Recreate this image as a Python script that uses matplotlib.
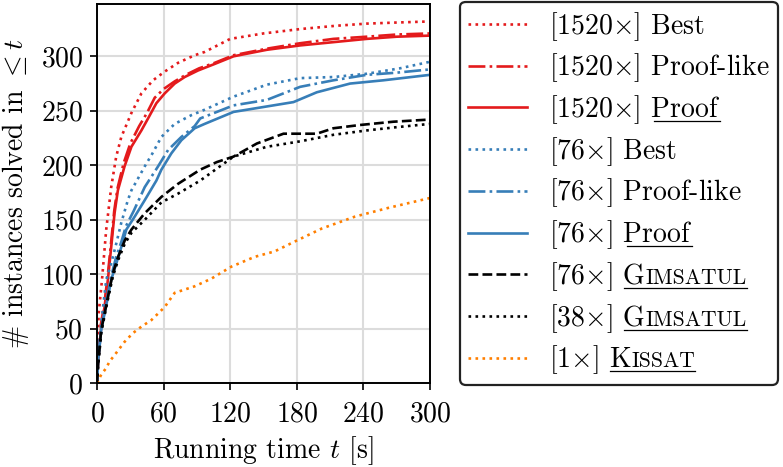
import matplotlib
matplotlib.use("Agg")
import matplotlib.pyplot as plt

plt.rcParams["font.family"] = "serif"
plt.rcParams["font.serif"] = ["cmr10"]
plt.rcParams["mathtext.fontset"] = "cm"
plt.rcParams["axes.formatter.use_mathtext"] = True

FS = 20

# cumulative solved instances vs running time
t_r1520_best = [0, 0.5, 1.5, 4.5, 8.3, 12.8, 17.3, 21.9, 31, 40, 50.5, 61, 73, 88, 97, 120, 150, 183, 215, 243, 270, 300]
n_r1520_best = [0, 30, 64, 95, 141, 180, 208, 226, 248, 266, 278, 286, 294, 301, 304, 316, 321, 325, 328, 330, 331, 332]

t_r1520_plike = [0, 1, 3.5, 6.5, 9.5, 12.5, 15.5, 18.5, 24, 30, 38, 45, 52, 60, 70, 80, 92, 106, 123, 153, 183, 213, 243, 270, 300]
n_r1520_plike = [0, 22, 54, 72, 97, 127, 158, 179, 202, 220, 236, 248, 262, 270, 277, 283, 289, 294, 301, 307, 312, 316, 318, 320, 321]

t_r1520_proof = [0, 1, 3.8, 6.8, 9.8, 12.8, 15.8, 18.8, 24.8, 31, 40, 46, 53.5, 61, 70, 79, 91, 106, 123, 153, 183, 213, 243, 270, 300]
n_r1520_proof = [0, 20, 52, 70, 95, 125, 156, 177, 199, 217, 232, 243, 257, 266, 275, 281, 287, 293, 300, 306, 310, 313, 316, 318, 319]

t_r76_best = [0, 1, 3.8, 8.3, 12.8, 17.3, 21.8, 27.8, 31, 43, 50, 58, 70, 85, 97, 123, 153, 183, 213, 243, 273, 300]
n_r76_best = [0, 25, 55, 95, 110, 128, 147, 168, 177, 199, 211, 226, 238, 246, 251, 263, 274, 280, 281, 284, 289, 295]

t_r76_plike = [0, 1, 3.8, 6.8, 9.8, 12.8, 17, 22, 26, 33, 43, 55, 64, 76, 88, 93, 123, 153, 183, 213, 243, 270, 300]
n_r76_plike = [0, 22, 50, 66, 82, 98, 115, 130, 144, 158, 180, 199, 214, 226, 236, 243, 255, 260, 272, 278, 283, 285, 288]

t_r76_proof = [0, 1, 3.8, 6.8, 9.8, 12.8, 17.4, 21.9, 26.4, 34, 43, 53.5, 58, 67, 76, 88, 97, 123, 153, 177, 198, 228, 258, 300]
n_r76_proof = [0, 20, 49, 64, 79, 95, 110, 125, 141, 153, 168, 186, 196, 211, 223, 234, 238, 249, 254, 258, 267, 275, 278, 283]

t_g76 = [0, 1, 3.8, 6.8, 9.8, 14.3, 19, 25, 31, 43, 58, 73, 93, 108, 123, 144, 168, 198, 213, 237, 267, 300]
n_g76 = [0, 18, 49, 64, 79, 101, 116, 131, 141, 156, 171, 183, 196, 203, 208, 220, 229, 229, 234, 237, 240, 242]

t_g38 = [0, 1, 3.8, 6.8, 9.8, 14.3, 19, 25, 31, 43, 58, 73, 93, 123, 153, 183, 213, 243, 270, 300]
n_g38 = [0, 16, 46, 62, 77, 98, 113, 128, 138, 150, 166, 174, 186, 208, 217, 222, 228, 232, 235, 238]

t_kissat = [0, 3.8, 8.3, 11.3, 17.4, 24.8, 32.3, 40, 49, 61, 70, 88, 103, 121, 142, 160, 178, 202.5, 232.6, 262.7, 300]
n_kissat = [0, 8, 14, 20, 28, 38, 46, 52, 58, 70, 83, 89, 96, 107, 116, 121, 130, 142, 153, 161, 170]

RED, BLUE, ORANGE = "#e41a1c", "#377eb8", "#ff7f00"

# (t, n, colour, style, label prefix, underlined word, small-caps tail)
SERIES = [
    (t_r1520_best, n_r1520_best, RED, ":", "[1520$\\times$] Best", None, None),
    (t_r1520_plike, n_r1520_plike, RED, "-.", "[1520$\\times$] Proof-like", None, None),
    (t_r1520_proof, n_r1520_proof, RED, "-", "[1520$\\times$] Proof", "Proof", None),
    (t_r76_best, n_r76_best, BLUE, ":", "[76$\\times$] Best", None, None),
    (t_r76_plike, n_r76_plike, BLUE, "-.", "[76$\\times$] Proof-like", None, None),
    (t_r76_proof, n_r76_proof, BLUE, "-", "[76$\\times$] Proof", "Proof", None),
    (t_g76, n_g76, "black", "--", "[76$\\times$] G", "G", "IMSATUL"),
    (t_g38, n_g38, "black", ":", "[38$\\times$] G", "G", "IMSATUL"),
    (t_kissat, n_kissat, ORANGE, ":", "[1$\\times$] K", "K", "ISSAT"),
]

fig = plt.figure(figsize=(7.83, 4.67), dpi=100)
ax = fig.add_axes([97 / 783, 1 - 383.3 / 467, 333 / 783, 379.3 / 467])

handles = []
for t, n, c, ls, lab, _, _ in SERIES:
    h, = ax.plot(t, n, color=c, ls=ls, lw=1.9, label=lab)
    handles.append(h)

ax.set_xlim(0, 300); ax.set_ylim(0, 348)
ax.set_xticks(range(0, 301, 60)); ax.set_yticks(range(0, 301, 50))
ax.grid(True, color="#dcdcdc", lw=1.5); ax.set_axisbelow(True)
for s in ax.spines.values():
    s.set_linewidth(1.4)
ax.tick_params(labelsize=FS, width=1.2, length=5, pad=5)
ax.tick_params(axis="x", pad=8)
ax.set_xlabel("Running time $t$ [s]", fontsize=FS, labelpad=5)
ax.set_ylabel("# instances solved in $\\leq t$", fontsize=FS)
ax.yaxis.set_label_coords(-0.198, 0.5)

leg = fig.legend(handles, [s[4] for s in SERIES], loc="upper left",
                 bbox_to_anchor=(460 / 783, 1 - 1.5 / 467), borderaxespad=0,
                 fontsize=FS, handlelength=2.1, handletextpad=0.8,
                 labelspacing=0.32, borderpad=0.3, fancybox=True,
                 framealpha=1, edgecolor="#222222")
leg.get_frame().set_linewidth(1.6)

# small caps + underlines, appended after the legend labels
fig.canvas.draw()
rend = fig.canvas.get_renderer()
inv = fig.transFigure.inverted()
for txt, (_, _, _, _, _, under, tail) in zip(leg.get_texts(), SERIES):
    if under is None:
        continue
    bb = txt.get_window_extent(rend)
    _, yb = txt.get_transform().transform(txt.get_unitless_position())
    prop = txt.get_fontproperties()
    w0, _, _ = rend.get_text_width_height_descent(under, prop, ismath=False)
    x_start = bb.x1 - w0
    x_end = bb.x1
    if tail:
        sm = prop.copy(); sm.set_size(FS * 0.78)
        wt, _, _ = rend.get_text_width_height_descent(tail, sm, ismath=False)
        fx, fy = inv.transform((bb.x1, yb))
        fig.text(fx, fy, tail, fontproperties=sm, va="baseline", ha="left", zorder=10)
        x_end = bb.x1 + wt
    (ux0, uy), (ux1, _) = inv.transform([(x_start, yb - 4), (x_end, yb - 4)])
    fig.add_artist(plt.Line2D([ux0, ux1], [uy, uy], transform=fig.transFigure,
                              color="black", lw=0.9, zorder=10))

fig.savefig("out.png", dpi=100)
